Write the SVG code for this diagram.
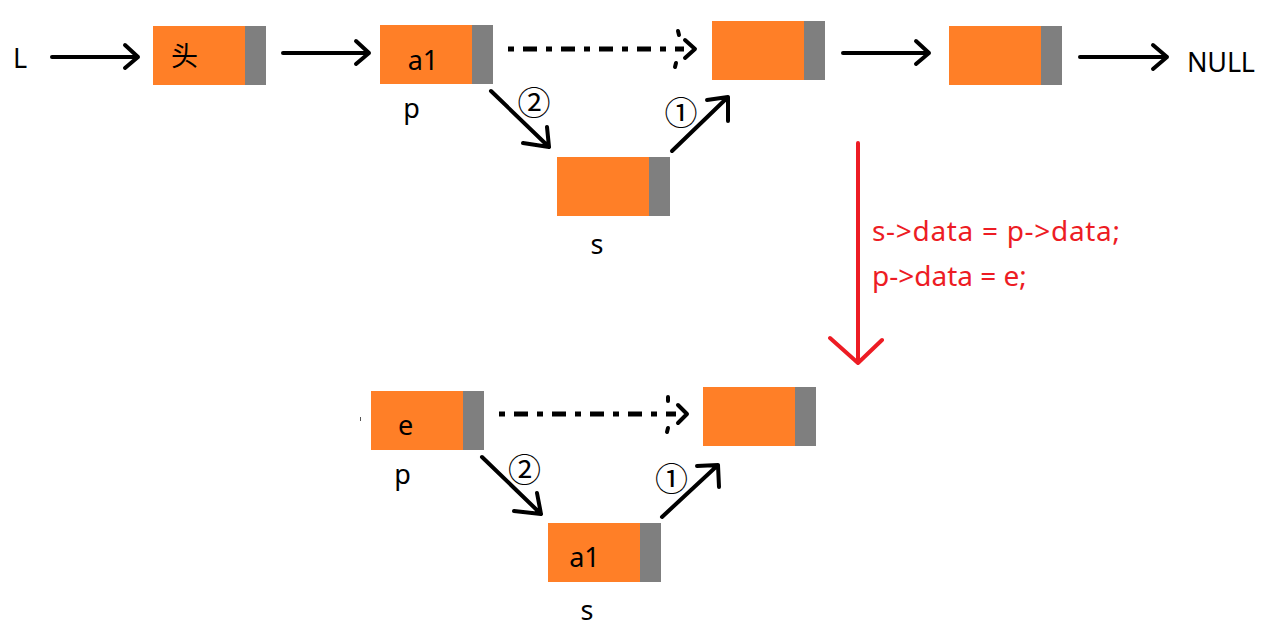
<svg xmlns="http://www.w3.org/2000/svg" width="1277" height="637" viewBox="0 0 1277 637">
<style>
.d{fill:#FF7F27}
.g{fill:#7F7F7F}
.t{font-family:"Noto Sans","Noto Sans CJK SC",sans-serif;font-size:27px;fill:#000}
.c{font-family:"Noto Sans CJK SC",sans-serif;font-size:33px;fill:#000}
.r{font-family:"Noto Sans",sans-serif;font-size:28px;fill:#ED1C24}
.a{fill:none;stroke:#000;stroke-width:4;stroke-linecap:round;stroke-linejoin:round}
.dash{fill:none;stroke:#000;stroke-width:5;stroke-dasharray:6 9 14 9}
.ra{fill:none;stroke:#ED1C24;stroke-width:4;stroke-linecap:round;stroke-linejoin:round}
</style>
<rect width="1277" height="637" fill="#fff"/>
<g id="connectors">
<path class="a" d="M52,57 H138 M125,45 L138,57 L125,68"/>
<path class="a" d="M283,53 H369 M356,41 L369,53 L356,64"/>
<path class="dash" d="M508,49 H684"/>
<path class="a" d="M678,31 L679,35 M685,40 L695,49 L685,58 M676,63 L675,67"/>
<path class="a" d="M843,53 H929 M916,41 L929,53 L916,64"/>
<path class="a" d="M1080,57 H1167 M1153,45 L1167,57 L1153,69"/>
<path class="a" d="M491,91 L549,147 M523,143 L549,147 L547,127"/>
<path class="a" d="M672,151 L728,97 M707,100 L728,97 L728,121"/>
<path class="ra" d="M858,143 V363 M830,338 L858,363 L882,340"/>
<path class="dash" d="M499,414 H676"/>
<path class="a" d="M668,397 L668,401 M678,405 L687,414 L678,423 M668,428 L667,432"/>
<path class="a" d="M482,457 L541,514 M514,511 L541,514 L537,493"/>
<path class="a" d="M662,517 L718,465 M697,466 L718,465 L719,487"/>
<rect x="360" y="417" width="1" height="4" fill="#555"/>
</g>
<g id="label-L"><text class="t" x="13" y="68">L</text></g>
<g id="node-head">
<rect class="d" x="153" y="26" width="92" height="59"/><rect class="g" x="245" y="26" width="21" height="59"/>
<text class="t" x="184.5" y="66" text-anchor="middle" font-size="25">头</text>
</g>
<g id="node-a1">
<rect class="d" x="380" y="25" width="92" height="59"/><rect class="g" x="472" y="25" width="21" height="59"/>
<text class="t" x="423" y="70" text-anchor="middle">a1</text>
</g>
<g id="label-p-top"><text class="t" x="411.5" y="118" text-anchor="middle">p</text></g>
<g id="node-3">
<rect class="d" x="712" y="21" width="92" height="59"/><rect class="g" x="804" y="21" width="21" height="59"/>
</g>
<g id="node-4">
<rect class="d" x="949" y="26" width="92" height="59"/><rect class="g" x="1041" y="26" width="21" height="59"/>
</g>
<g id="label-null"><text class="t" x="1187" y="72" textLength="68">NULL</text></g>
<g id="node-s-top">
<rect class="d" x="557" y="157" width="92" height="59"/><rect class="g" x="649" y="157" width="21" height="59"/>
</g>
<g id="label-s-top"><text class="t" x="597" y="254" text-anchor="middle">s</text></g>
<g id="label-2-top"><text class="c" x="534" y="115" text-anchor="middle">②</text></g>
<g id="label-1-top"><text class="c" x="681" y="125" text-anchor="middle">①</text></g>
<g id="code">
<text class="r" x="872" y="241" textLength="248">s-&gt;data = p-&gt;data;</text>
<text class="r" x="872" y="286">p-&gt;data = e;</text>
</g>
<g id="node-e">
<rect class="d" x="371" y="391" width="92" height="59"/><rect class="g" x="463" y="391" width="21" height="59"/>
<text class="t" x="405.5" y="435" text-anchor="middle">e</text>
</g>
<g id="label-p-bottom"><text class="t" x="402.5" y="484" text-anchor="middle">p</text></g>
<g id="node-right-bottom">
<rect class="d" x="703" y="387" width="92" height="59"/><rect class="g" x="795" y="387" width="21" height="59"/>
</g>
<g id="node-s-bottom">
<rect class="d" x="548" y="523" width="92" height="59"/><rect class="g" x="640" y="523" width="21" height="59"/>
<text class="t" x="584.5" y="567" text-anchor="middle">a1</text>
</g>
<g id="label-s-bottom"><text class="t" x="587" y="620" text-anchor="middle">s</text></g>
<g id="label-2-bottom"><text class="c" x="524.5" y="482" text-anchor="middle">②</text></g>
<g id="label-1-bottom"><text class="c" x="671.5" y="491" text-anchor="middle">①</text></g>
</svg>
